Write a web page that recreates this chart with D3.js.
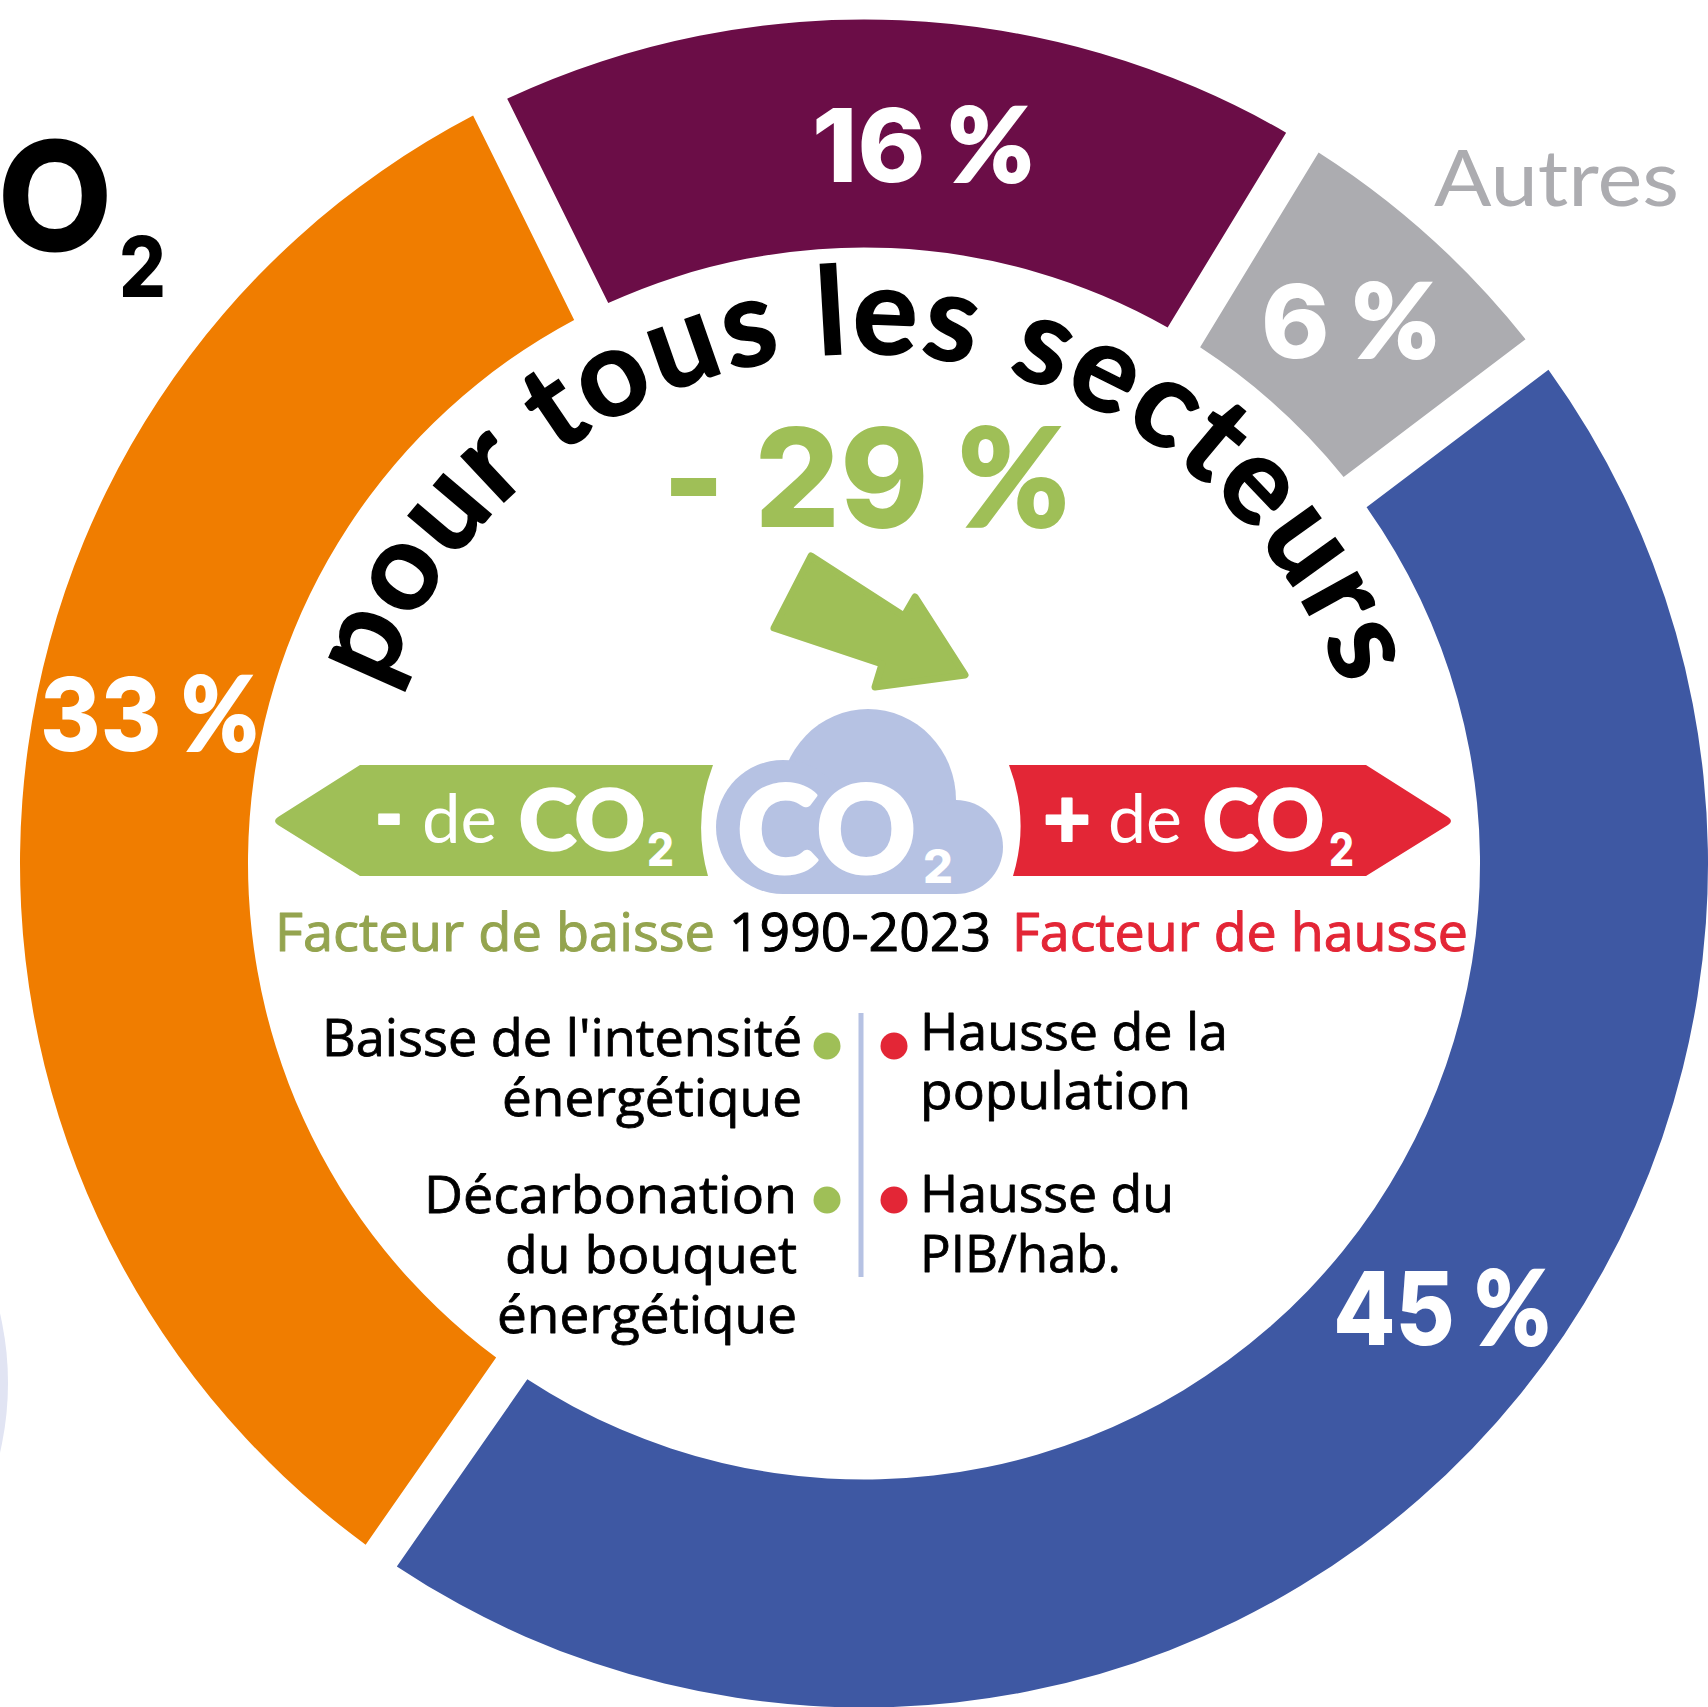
<!DOCTYPE html>
<html lang="fr">

<head>
    <meta charset="UTF-8">
    <script src="https://d3js.org/d3.v7.min.js"></script>
    <title>CO2</title>
    <style>
        html, body { margin: 0; padding: 0; background: #fff; }
        svg { display: block; }
        text { font-family: Lato, sans-serif; font-variant-ligatures: none; }
        .num { font-family: Inter, sans-serif; }
        .body { font-family: 'Open Sans', sans-serif; }
    </style>
</head>

<body>
    <div id="app"></div>
    <script>
        // shares by sector, clockwise from the top
        const shares = [16, 6, 45, 33];
        const share_colors = ['#6b0d47', '#acacb0', '#3e58a3', '#f07d00'];
        const share_suffix = ' %';

        const total_change = '- 29 %';
        const period = '1990-2023';
        const title = 'pour tous les secteurs';
        const other_label = 'Autres';
        const down_factors = [["Baisse de l'intensité", 'énergétique'], ['Décarbonation', 'du bouquet', 'énergétique']];
        const up_factors = [['Hausse de la', 'population'], ['Hausse du', 'PIB/hab.']];

        const svg_width = 1708;
        const svg_height = 1707;
        const cx = 864;
        const cy = 863.5;
        const r_outer = 844;
        const r_inner = 616;
        const gap = 38;
        const start_deg = -26.3;

        const green = '#9fbf57';
        const olive = '#94a44f';
        const red = '#e32636';
        const cloud = '#b6c2e3';

        const svg = d3.select('#app')
            .append('svg')
            .attr('width', svg_width)
            .attr('height', svg_height)

        function txt(str, x, y, size, weight, fill, width) {
            const t = svg.append('text')
                .attr('x', x)
                .attr('y', y)
                .attr('font-size', size)
                .attr('font-weight', weight)
                .attr('fill', fill)
                .text(str)
            if (width) {
                t.attr('textLength', width).attr('lengthAdjust', 'spacingAndGlyphs')
            }
            return t
        }

        // heavier than the font's own black weight
        function thick(t, w) {
            return t.attr('stroke', t.attr('fill')).attr('stroke-width', w).attr('stroke-linejoin', 'round')
        }

        // digits in Inter, percent sign in Lato black
        function pct(str, x, y, size, fill, width) {
            const t = txt(str.slice(0, -1), x, y, size, 800, fill, width).classed('num', true)
            t.append('tspan')
                .attr('font-family', 'Lato, sans-serif')
                .attr('font-weight', 900)
                .attr('stroke', fill)
                .attr('stroke-width', 2)
                .text('%')
            return t
        }

        // pale circle cut by the left edge
        svg.append('circle')
            .attr('cx', -300)
            .attr('cy', 1383)
            .attr('r', 308)
            .attr('fill', '#e1e4f3')

        // ring
        const pie = d3.pie()
            .sort(null)
            .startAngle(start_deg * Math.PI / 180)
            .endAngle((start_deg + 360) * Math.PI / 180)
        const arc = d3.arc()
            .innerRadius(r_inner)
            .outerRadius(r_outer)
            .padAngle(gap / r_outer)
            .padRadius(r_outer)

        svg.append('g')
            .attr('transform', `translate(${cx},${cy})`)
            .selectAll('path')
            .data(pie(shares))
            .enter()
            .append('path')
            .attr('d', arc)
            .attr('fill', function (d, i) {
                return share_colors[i]
            })

        // labels on the ring: [x, baseline, width]
        const share_label_pos = [[812, 182, 221], [1261, 358, 177], [1333, 1345, 217], [40, 751, 218]];
        shares.forEach(function (d, i) {
            const p = share_label_pos[i]
            pct(d + share_suffix, p[0], p[1], 102, '#fff', p[2])
        })
        txt(other_label, 1434, 206, 78, 400, '#acacb0', 245)

        // what is left of the big title at top left, its C is outside the picture
        thick(txt('O', 1, 249, 146, 900, '#000', 108), 5)
        txt('2', 119, 297, 84, 800, '#000', 47).classed('num', true)

        // curved title
        const title_r = 510;
        const title_arc_len = 1245;
        const title_path = d3.path()
        title_path.arc(cx, cy, title_r, -Math.PI, 0)
        svg.append('path')
            .attr('id', 'title_arc')
            .attr('d', title_path.toString())
            .attr('fill', 'none')
        const title_text = svg.append('text')
            .attr('font-size', 122)
            .attr('font-weight', 700)
            .attr('fill', '#000')
            .attr('stroke', '#000')
            .attr('stroke-width', 1.5)
            .attr('text-anchor', 'middle')
        title_text.append('textPath')
            .attr('href', '#title_arc')
            .attr('startOffset', '50%')
            .text(title)
        const title_len = title_text.node().getComputedTextLength()
        title_text.attr('letter-spacing', (title_arc_len - title_len) / (title.length - 1))

        pct(total_change, 662, 527, 137, green, 407)

        // arrow
        const arrow = [[811, 556], [904, 616], [915, 597], [965, 675], [875, 687], [882, 664], [774, 628]];
        svg.append('path')
            .attr('d', d3.line()(arrow) + 'Z')
            .attr('fill', green)
            .attr('stroke', green)
            .attr('stroke-width', 7)
            .attr('stroke-linejoin', 'round')

        // banners
        svg.append('path')
            .attr('d', 'M360,765 L713,765 Q692,820 708,876 L360,876 L278,825 Q272,821 278,817 Z')
            .attr('fill', green)
        svg.append('path')
            .attr('d', 'M1009,765 L1366,765 L1448,817 Q1454,821 1448,825 L1366,876 L1013,876 Q1030,820 1009,765 Z')
            .attr('fill', red)

        // cloud
        const cloud_g = svg.append('g').attr('fill', cloud)
        cloud_g.append('ellipse').attr('cx', 868).attr('cy', 800).attr('rx', 88).attr('ry', 91)
        cloud_g.append('ellipse').attr('cx', 783).attr('cy', 827).attr('rx', 67).attr('ry', 67)
        cloud_g.append('circle').attr('cx', 956).attr('cy', 847).attr('r', 47)
        cloud_g.append('rect').attr('x', 783).attr('y', 840).attr('width', 173).attr('height', 54)

        thick(txt('CO', 737, 873, 122, 900, '#fff', 179), 3)
        txt('2', 923, 883, 47, 800, '#fff', 30).classed('num', true)

        thick(txt('-', 375, 845, 84, 900, '#fff', 28), 2)
        txt('de', 422, 843, 68, 400, '#fff', 75)
        thick(txt('CO', 519, 850, 84, 900, '#fff', 126), 2.5)
        txt('2', 647, 866, 47, 800, '#fff', 27).classed('num', true)

        thick(txt('+', 1043, 848, 84, 900, '#fff', 48), 2)
        txt('de', 1108, 843, 68, 400, '#fff', 74)
        thick(txt('CO', 1203, 850, 84, 900, '#fff', 121), 2.5)
        txt('2', 1329, 866, 47, 800, '#fff', 25).classed('num', true)

        thick(txt('Facteur de baisse', 275, 951, 53, 500, olive, 440).classed('body', true), 1)
        thick(txt(period, 729, 951, 53, 500, '#000', 262).classed('body', true), 1)
        thick(txt('Facteur de hausse', 1012, 951, 53, 500, red, 456).classed('body', true), 1)

        // factor lists
        const down_baselines = [[1056, 1116], [1213, 1273, 1333]];
        const down_right = [802, 797];
        const up_baselines = [[1050, 1109], [1212, 1272]];
        const dot_y = [1046, 1200];
        const down_widths = [[480, 300], [373, 292, 300]];
        const up_widths = [[308, 271], [254, 201]];

        down_factors.forEach(function (lines, i) {
            lines.forEach(function (s, j) {
                thick(txt(s, down_right[i] - down_widths[i][j], down_baselines[i][j], 52, 500, '#000', down_widths[i][j]).classed('body', true), 0.8)
            })
        })
        up_factors.forEach(function (lines, i) {
            lines.forEach(function (s, j) {
                thick(txt(s, 920, up_baselines[i][j], 52, 500, '#000', up_widths[i][j]).classed('body', true), 0.8)
            })
        })
        dot_y.forEach(function (y) {
            svg.append('circle').attr('cx', 827).attr('cy', y).attr('r', 13.5).attr('fill', green)
            svg.append('circle').attr('cx', 894).attr('cy', y).attr('r', 13.5).attr('fill', red)
        })
        svg.append('line')
            .attr('x1', 861).attr('x2', 861)
            .attr('y1', 1013).attr('y2', 1277)
            .attr('stroke', cloud)
            .attr('stroke-width', 5)
    </script>
</body>

</html>
